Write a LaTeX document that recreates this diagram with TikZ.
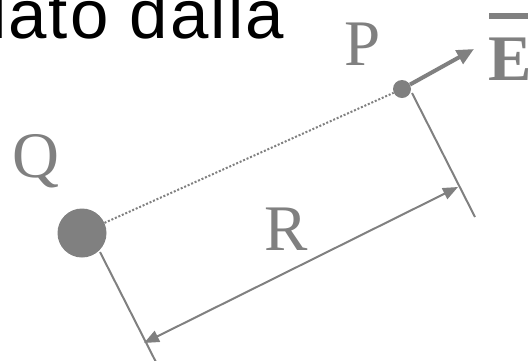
\documentclass[tikz,border=0pt]{standalone}
\usepackage{fontspec}
\setmainfont{Liberation Serif}
\newfontfamily\arialfont{Liberation Sans}
\usetikzlibrary{arrows.meta}
\definecolor{gry}{RGB}{128,128,128}
\begin{document}
\begin{tikzpicture}[x=1pt,y=-1pt,
  lbl/.style={text=gry,font=\fontsize{65}{70}\selectfont,inner sep=0pt,anchor=base},
  dimline/.style={draw=gry,line width=2pt},
  tipA/.style={{Triangle[length=15pt,width=12pt]}-{Triangle[length=15pt,width=12pt]}}]
\useasboundingbox (0,0) rectangle (528,360);
\clip (0,0) rectangle (528,360);
% heading text (cut by the frame)
\node[anchor=base west,inner sep=0pt,font=\arialfont\fontsize{69}{75}\selectfont\addfontfeature{LetterSpace=3}] (head) at (-9,38) {lato dalla};
% charges
\node[circle,fill=gry,minimum size=49pt,inner sep=0pt] (Q) at (82,233) {};
\node[circle,fill=gry,minimum size=18pt,inner sep=0pt] (P) at (402,89) {};
% labels
\node[lbl] (Ql) at (36,177) {Q};
\node[lbl] (Pl) at (363,65) {P};
\node[lbl] (Rl) at (286,250) {R};
\node[lbl,anchor=base west,font=\bfseries\fontsize{65}{70}\selectfont] (El) at (488,80) {E};
\draw[gry,line width=6pt] ([yshift=21pt,xshift=1pt]El.north west) -- ([yshift=21pt,xshift=20pt]El.north east);
% dotted line Q-P
\draw[gry,line width=2pt,dash pattern=on 2pt off 1.8pt] (Q) -- (P);
% field arrow
\coordinate (Etip) at (474,49);
\draw[gry,line width=4pt,-{Triangle[length=17pt,width=15pt]}] (P) -- (Etip);
% extension lines
\coordinate (q1) at (100,252);
\coordinate (q2) at (161,372);
\coordinate (p1) at (412,93);
\coordinate (p2) at (475,217);
\draw[dimline] (q1) -- (q2);
\draw[dimline] (p1) -- (p2);
% dimension line
\coordinate (d1) at (144,343);
\coordinate (d2) at (458,187);
\draw[dimline,tipA] (d1) -- (d2);
\end{tikzpicture}
\end{document}
